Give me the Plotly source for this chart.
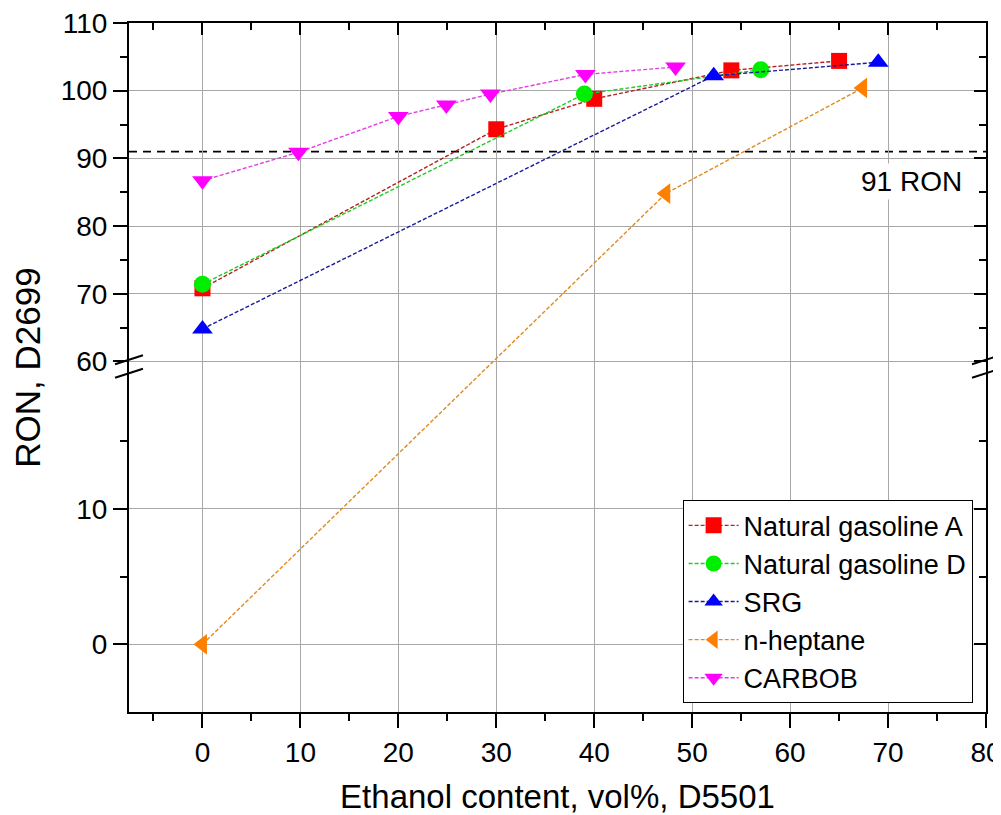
import numpy as np
import plotly.graph_objects as go

# ---- data (ethanol vol%, RON) ----
ngA_x = [0, 30, 40, 54, 65]
ngA_y = [70.8, 94.3, 98.8, 103.0, 104.4]

ngD_x = [0, 39, 57]
ngD_y = [71.4, 99.5, 103.1]

srg_x = [0, 52.2, 69]
srg_y = [64.8, 102.2, 104.2]

hep_x = [0, 47.3, 67.4]
hep_y = [0.0, 84.8, 100.4]

carb_x = [0, 9.8, 20, 24.9, 29.4, 39.1, 48.3]
carb_y = [86.7, 90.9, 96.2, 97.9, 99.5, 102.4, 103.5]

x_ticks = [0, 10, 20, 30, 40, 50, 60, 70, 80]
y_major = [0, 10, 60, 70, 80, 90, 100, 110]
y_minor = [5, 15, 65, 75, 85, 95, 105]
ron_limit = 91

# ---- broken y-axis transform: lower segment [-5, 20], upper [60, 110] ----
LOW_MAX, HIGH_MIN = 20, 60
GAP = 1.8          # gap between segments, in upper-segment units
LOW_SCALE = 2.0    # lower segment stretched x2


def ty(v):
    v = np.asarray(v, dtype=float)
    return np.where(v >= HIGH_MIN, v, HIGH_MIN - GAP - (LOW_MAX - v) * LOW_SCALE)


FONT = "Liberation Sans, Arial, sans-serif"

series = [
    ("Natural gasoline A", ngA_x, ngA_y, "#ff0000", "#b22222", "square", 16),
    ("Natural gasoline D", ngD_x, ngD_y, "#00ee00", "#22cc22", "circle", 17),
    ("SRG", srg_x, srg_y, "#0000ff", "#1a1a9a", "triangle-up", 18),
    ("n-heptane", hep_x, hep_y, "#ff8000", "#e08a20", "triangle-left", 18),
    ("CARBOB", carb_x, carb_y, "#ff00ff", "#e040e0", "triangle-down", 18),
]

fig = go.Figure()
for name, xs, ys, mcol, lcol, sym, size in series:
    fig.add_trace(go.Scatter(
        x=xs, y=ty(ys), name=name, mode="lines+markers",
        line=dict(color=lcol, width=1.4, dash="4px,2px"),
        marker=dict(color=mcol, symbol=sym, size=size, line=dict(width=0)),
        cliponaxis=False,
    ))

# dummy trace to register the mirrored (top/right) axes
fig.add_trace(go.Scatter(x=[], y=[], xaxis="x2", yaxis="y2", showlegend=False,
                         hoverinfo="skip"))

xr = [-7.5, 80]
yr = [float(ty(-5)), 110]

axis_common = dict(showline=True, linecolor="black", linewidth=2, automargin=False,
                   zeroline=False, tickcolor="black", tickwidth=2)

# page body has an 8px default margin -> figure is 8px smaller than the window
fig.update_layout(
    width=993, height=807,
    margin=dict(l=121, r=15, t=15, b=103),
    plot_bgcolor="white", paper_bgcolor="white",
    font=dict(family=FONT, color="black", size=28),
    showlegend=True,
    xaxis=dict(
        **axis_common, range=xr, tickmode="array", tickvals=x_ticks,
        ticks="outside", ticklen=14, showgrid=True, gridcolor="#a8a8a8", gridwidth=1,
        minor=dict(tickmode="linear", tick0=-5, dtick=10, ticks="outside", ticklen=7,
                   tickwidth=2, tickcolor="black", showgrid=False),
        tickfont=dict(size=28), ticklabeloverflow="allow",
        title=dict(text="Ethanol content, vol%, D5501", font=dict(size=33), standoff=18),
    ),
    xaxis2=dict(
        **axis_common, range=xr, overlaying="x", side="top", anchor="y",
        tickmode="array", tickvals=x_ticks, ticks="inside", ticklen=12,
        showticklabels=False, showgrid=False,
        minor=dict(tickmode="linear", tick0=-5, dtick=10, ticks="inside", ticklen=7,
                   tickwidth=2, tickcolor="black", showgrid=False),
    ),
    yaxis=dict(
        **axis_common, range=yr, tickmode="array", tickvals=ty(y_major).tolist(),
        ticktext=[str(v) for v in y_major], ticks="outside", ticklen=14,
        showgrid=True, gridcolor="#a8a8a8", gridwidth=1,
        minor=dict(tickvals=ty(y_minor).tolist(), ticks="outside", ticklen=7,
                   tickwidth=2, tickcolor="black", showgrid=False),
        tickfont=dict(size=28), ticklabeloverflow="allow",
        title=dict(text="RON, D2699", font=dict(size=35), standoff=10),
    ),
    yaxis2=dict(
        **axis_common, range=yr, overlaying="y", side="right", anchor="x",
        tickmode="array", tickvals=ty(y_major).tolist(), ticks="inside", ticklen=12,
        showticklabels=False, showgrid=False,
        minor=dict(tickvals=ty(y_minor).tolist(), ticks="inside", ticklen=7,
                   tickwidth=2, tickcolor="black", showgrid=False),
    ),
    legend=dict(
        x=0.646, y=0.0126, xanchor="left", yanchor="bottom",
        bordercolor="black", borderwidth=1, bgcolor="white",
        font=dict(size=27), tracegroupgap=0, itemwidth=50,
    ),
)

# 91 RON reference line
fig.add_shape(type="line", xref="paper", x0=0, x1=1, yref="y",
              y0=float(ty(ron_limit)), y1=float(ty(ron_limit)),
              line=dict(color="black", width=1.6, dash="8px,6px"), layer="between")
fig.add_annotation(x=72.4, y=float(ty(86.6)), text="91 RON", showarrow=False,
                   font=dict(size=28), bgcolor="white", borderpad=2)

# axis-break marks on left and right spines
for yc in (float(ty(HIGH_MIN)) + 0.25, float(ty(LOW_MAX)) + 0.05):
    for xc in (0.0, 1.0):
        fig.add_shape(type="line", xref="paper", yref="y",
                      x0=xc - 0.0163, x1=xc + 0.0163, y0=yc - 0.66, y1=yc + 0.66,
                      line=dict(color="black", width=2), layer="above")

fig.write_html("out.html")
